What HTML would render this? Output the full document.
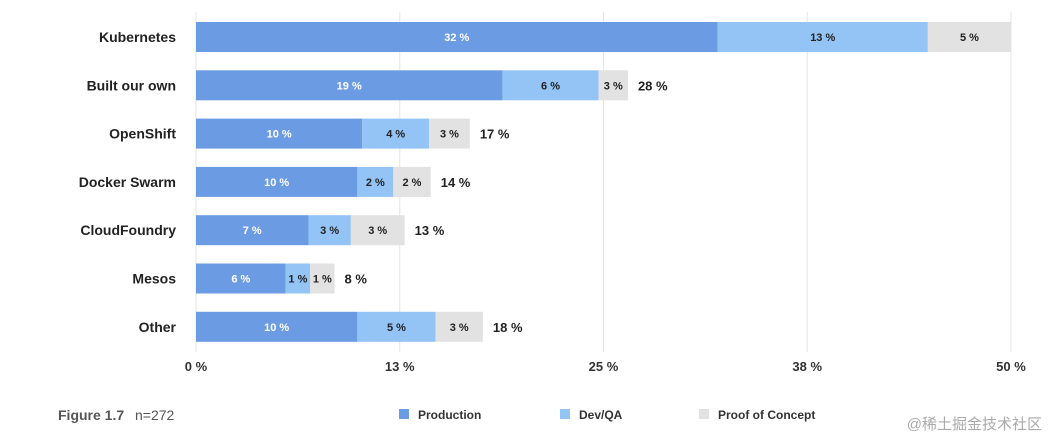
<!DOCTYPE html>
<html><head><meta charset="utf-8"><style>
body{margin:0;background:#fff;width:1049px;height:442px;overflow:hidden;font-family:"Liberation Sans","Noto Sans CJK SC",sans-serif}
</style></head><body>
<svg id="chart" width="1049" height="442" xmlns="http://www.w3.org/2000/svg"></svg>
<script>
const categories=["Kubernetes","Built our own","OpenShift","Docker Swarm","CloudFoundry","Mesos","Other"];
const production=[32,18.8,10.2,9.9,6.9,5.5,9.9];
const devqa=[12.9,5.9,4.1,2.2,2.6,1.5,4.8];
const poc=[5.1,1.8,2.5,2.3,3.3,1.5,2.9];
const prodLabels=["32 %","19 %","10 %","10 %","7 %","6 %","10 %"];
const devLabels=["13 %","6 %","4 %","2 %","3 %","1 %","5 %"];
const pocLabels=["5 %","3 %","3 %","2 %","3 %","1 %","3 %"];
const totalLabels=["","28 %","17 %","14 %","13 %","8 %","18 %"];
const ticks=[0,12.5,25,37.5,50];
const tickLabels=["0 %","13 %","25 %","38 %","50 %"];
const svg=document.getElementById('chart');
const NS="http://www.w3.org/2000/svg";
const x0=196,x1=1011,xMax=50;
const xs=v=>x0+(v/xMax)*(x1-x0);
const yc=i=>37+i*48.3;
function mk(t,a){const e=document.createElementNS(NS,t);for(const k in a)e.setAttribute(k,a[k]);svg.appendChild(e);return e;}
ticks.forEach((t,i)=>{
 const g=mk('line',{x1:xs(t),x2:xs(t),y1:12,y2:352,stroke:'#e6e6e6','stroke-width':1});
 
 
 const l=mk('text',{x:xs(t),y:371,'text-anchor':'middle','font-size':13,'font-weight':'bold',fill:'#333'});
 l.textContent=tickLabels[i];
 
 
});
const series=[[production,prodLabels,'#6b9be3','#fff','production'],[devqa,devLabels,'#94c3f6','#222','devqa'],[poc,pocLabels,'#e2e2e2','#222','poc']];
categories.forEach((c,i)=>{
 const cl=mk('text',{x:176,y:yc(i)+5,'text-anchor':'end','font-size':14,'font-weight':'bold',fill:'#222'});
 cl.textContent=c;
 
 
 let acc=0;
 series.forEach(s=>{
  const v=s[0][i];
  const r=mk('rect',{x:xs(acc),y:yc(i)-15,width:xs(acc+v)-xs(acc),height:30,fill:s[2]});
  
  
  const t=mk('text',{x:(xs(acc)+xs(acc+v))/2,y:yc(i)+4,'text-anchor':'middle','font-size':11,'font-weight':'bold',fill:s[3]});
  t.textContent=s[1][i];
  
  
  acc+=v;
 });
 if(totalLabels[i]){
  const tl=mk('text',{x:xs(acc)+10,y:yc(i)+5,'font-size':13,'font-weight':'bold',fill:'#222'});
  tl.textContent=totalLabels[i];
  
  
 }
});
const leg=[["Production",'#6b9be3',399],["Dev/QA",'#94c3f6',560],["Proof of Concept",'#e2e2e2',699]];
leg.forEach(l=>{
 const r=mk('rect',{x:l[2],y:409,width:10,height:10,fill:l[1]});
 
 
 const t=mk('text',{x:l[2]+19,y:419,'font-size':12,'font-weight':'bold',fill:'#333'});
 t.textContent=l[0];
 
 
});
const f=mk('text',{x:58,y:420,'font-size':14,'font-weight':'bold',fill:'#555'});
f.textContent="Figure 1.7";


const n=mk('text',{x:135,y:420,'font-size':14,fill:'#555'});
n.textContent="n=272";


const w=mk('text',{x:1042,y:429,'text-anchor':'end','font-size':15,fill:'#aaa'});
w.textContent="@稀土掘金技术社区";


</script>
</body></html>
